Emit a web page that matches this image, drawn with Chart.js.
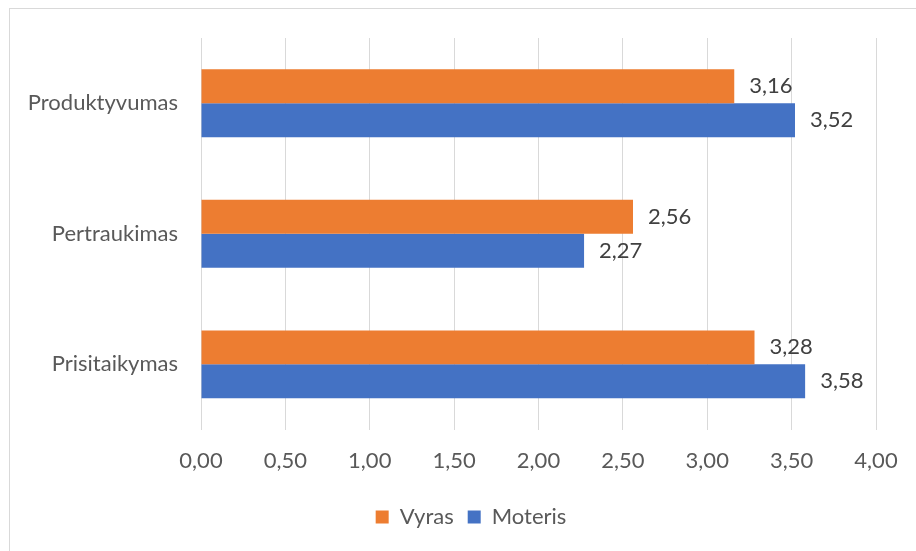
<!DOCTYPE html>
<html lang="lt">
<head>
    <meta charset="UTF-8">
    <title>Vyras / Moteris</title>
    <script src="https://cdn.jsdelivr.net/npm/chart.js"></script>
    <style>
        body { margin: 0; overflow: hidden; background: #fff; }
        #frame { position: absolute; left: 9px; top: 8px; width: 1000px; height: 1000px; border: 1px solid #d9d9d9; }
        #wrap { position: absolute; left: 0; top: 0; width: 916px; height: 551px; }
    </style>
</head>
<body>
    <div id="frame"></div>
    <div id="wrap"><canvas id="chart" width="916" height="551"></canvas></div>

    <script>
        // Chart data
        const categories = ["Produktyvumas", "Pertraukimas", "Prisitaikymas"];
        const vyras = [3.16, 2.56, 3.28];
        const moteris = [3.52, 2.27, 3.58];
        const seriesNames = ["Vyras", "Moteris"];

        const fontFamily = "Lato, 'Open Sans', sans-serif";

        function fmt(v) {
            return Number(v).toFixed(2).replace(".", ",");
        }

        // Draw value labels at bar ends
        const valueLabels = {
            id: "valueLabels",
            afterDatasetsDraw(chart) {
                const ctx = chart.ctx;
                ctx.save();
                ctx.font = "22px " + fontFamily;
                ctx.fillStyle = "#404040";
                ctx.textBaseline = "middle";
                ctx.textAlign = "left";
                chart.data.datasets.forEach((ds, i) => {
                    chart.getDatasetMeta(i).data.forEach((bar, j) => {
                        ctx.fillText(fmt(ds.data[j]), bar.x + 15, bar.y);
                    });
                });
                ctx.restore();
            }
        };

        // Shift legend so it is centred like the original
        const legendShift = {
            id: "legendShift",
            afterLayout(chart) {
                if (chart.legend) {
                    chart.legend.left += 66;
                }
            }
        };

        const ctx = document.getElementById("chart").getContext("2d");
        new Chart(ctx, {
            type: "bar",
            data: {
                labels: categories,
                datasets: [{
                    label: seriesNames[0],
                    data: vyras,
                    backgroundColor: "#ED7D31",
                    categoryPercentage: 0.52,
                    barPercentage: 1.0
                }, {
                    label: seriesNames[1],
                    data: moteris,
                    backgroundColor: "#4472C4",
                    categoryPercentage: 0.52,
                    barPercentage: 1.0
                }]
            },
            options: {
                indexAxis: "y",
                responsive: false,
                animation: false,
                layout: {
                    padding: { left: 0, right: 40, top: 38, bottom: 13 }
                },
                scales: {
                    x: {
                        min: 0,
                        max: 4,
                        border: { display: false },
                        grid: { color: "#d9d9d9", lineWidth: 1, drawTicks: false },
                        ticks: {
                            stepSize: 0.5,
                            padding: 18,
                            color: "#595959",
                            font: { family: fontFamily, size: 22 },
                            callback: value => fmt(value)
                        }
                    },
                    y: {
                        border: { display: false },
                        grid: { display: false, drawTicks: false },
                        afterFit: scale => { scale.width = 201; },
                        ticks: {
                            padding: 23,
                            color: "#595959",
                            font: { family: fontFamily, size: 22 }
                        }
                    }
                },
                plugins: {
                    legend: {
                        position: "bottom",
                        labels: {
                            boxWidth: 13,
                            boxHeight: 13,
                            padding: 14,
                            color: "#595959",
                            font: { family: fontFamily, size: 22 }
                        }
                    },
                    tooltip: { enabled: false }
                }
            },
            plugins: [valueLabels, legendShift]
        });
    </script>
</body>
</html>
